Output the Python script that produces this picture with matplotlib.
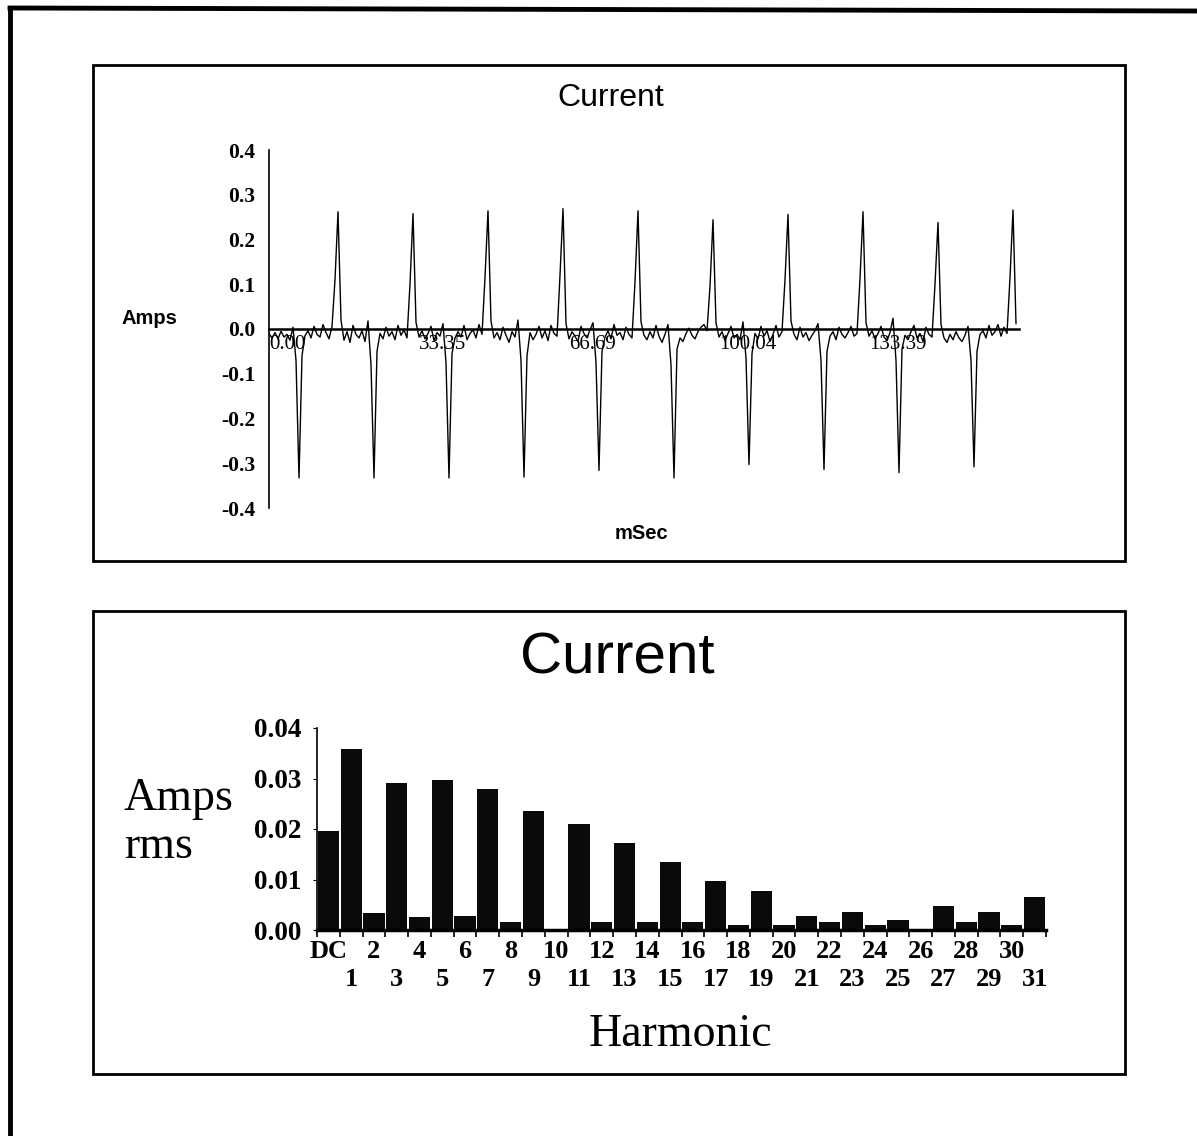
import numpy as np
import matplotlib.pyplot as plt
from matplotlib.patches import Rectangle
from matplotlib.lines import Line2D

plt.rcParams['axes.unicode_minus'] = False

W, H = 1197, 1136
SANS = 'Liberation Sans'
SERIF = 'Liberation Serif'

# ---- waveform data (Amps), one sample every 0.667 ms ----
dt_ms = 0.667
amps = [
    -0.010, -0.020, -0.008, -0.022, -0.005, -0.018, -0.012, -0.025, 0.004, -0.070,
    -0.333, -0.060, -0.015, -0.004, -0.020, 0.006, -0.012, -0.018, 0.010, -0.008,
    -0.022, 0.005, 0.110, 0.262, 0.020,
    -0.025, -0.006, -0.030, 0.008, -0.012, -0.020, -0.004, -0.028, 0.018, -0.080,
    -0.333, -0.050, -0.010, -0.022, 0.004, -0.016, -0.006, -0.024, 0.008, -0.014,
    -0.002, -0.020, 0.100, 0.258, 0.015,
    -0.018, -0.004, -0.022, -0.010, 0.006, -0.026, -0.008, -0.016, 0.012, -0.075,
    -0.333, -0.055, -0.020, -0.006, -0.018, 0.008, -0.024, -0.010, -0.002, -0.020,
    0.010, -0.012, 0.115, 0.264, 0.018,
    -0.020, -0.008, -0.024, 0.004, -0.014, -0.030, -0.006, -0.018, 0.020, -0.070,
    -0.331, -0.060, -0.008, -0.024, -0.012, 0.006, -0.020, -0.004, -0.026, 0.008,
    -0.010, -0.016, 0.120, 0.269, 0.012,
    -0.022, -0.006, -0.016, -0.028, 0.006, -0.010, -0.020, -0.002, 0.014, -0.075,
    -0.316, -0.050, -0.018, -0.004, -0.022, 0.010, -0.014, -0.008, -0.024, 0.004,
    -0.012, -0.020, 0.105, 0.264, 0.016,
    -0.014, -0.024, -0.006, -0.020, 0.008, -0.016, -0.030, -0.012, 0.010, -0.080,
    -0.333, -0.045, -0.020, -0.028, -0.010, 0.002, -0.014, -0.022, -0.006, 0.004,
    0.010, -0.004, 0.095, 0.244, 0.014,
    -0.018, -0.006, -0.026, -0.010, 0.006, -0.020, -0.012, -0.024, 0.016, -0.065,
    -0.303, -0.055, -0.010, -0.022, 0.006, -0.016, -0.004, -0.028, -0.012, 0.008,
    -0.018, -0.006, 0.110, 0.256, 0.018,
    -0.012, -0.024, 0.004, -0.018, -0.008, -0.026, -0.014, -0.004, 0.012, -0.070,
    -0.314, -0.050, -0.016, -0.006, -0.024, 0.004, -0.012, -0.020, -0.008, 0.006,
    -0.016, -0.010, 0.112, 0.262, 0.014,
    -0.016, -0.004, -0.022, -0.010, 0.006, -0.018, -0.026, -0.008, 0.024, -0.070,
    -0.321, -0.045, -0.014, -0.024, -0.006, 0.008, -0.020, -0.010, -0.028, 0.004,
    -0.012, -0.018, 0.100, 0.238, 0.010,
    -0.020, -0.030, -0.012, -0.024, -0.006, -0.020, -0.028, -0.014, 0.006, -0.070,
    -0.308, -0.050, -0.012, -0.004, -0.020, 0.008, -0.014, -0.006, 0.010, -0.016,
    0.004, -0.010, 0.115, 0.266, 0.012,
]
time_ticks = [0.00, 33.35, 66.69, 100.04, 133.39]
amp_ticks = [0.4, 0.3, 0.2, 0.1, 0.0, -0.1, -0.2, -0.3, -0.4]

# ---- harmonic spectrum (Amps rms) ----
harmonics = ['DC'] + [str(h) for h in range(1, 32)]
rms = [0.0196, 0.0359, 0.0033, 0.0292, 0.0026, 0.0298, 0.0028, 0.0279,
       0.0015, 0.0236, 0.0001, 0.0210, 0.0015, 0.0173, 0.0015, 0.0134,
       0.0015, 0.0097, 0.0009, 0.0077, 0.0009, 0.0028, 0.0015, 0.0035,
       0.0009, 0.0020, 0.0001, 0.0048, 0.0015, 0.0035, 0.0009, 0.0066]
rms_ticks = [0.00, 0.01, 0.02, 0.03, 0.04]


def fx(x):
    return x / W


def fy(y):
    return 1 - y / H


def box(x0, y0, x1, y1):
    # pixel box (top-left origin) -> [left, bottom, width, height]
    return [fx(x0), fy(y1), (x1 - x0) / W, (y1 - y0) / H]


fig = plt.figure(figsize=(W / 100, H / 100), dpi=100)
fig.patch.set_facecolor('white')

# outer frame (left + top only) and the two panel boxes
fig.add_artist(Line2D([fx(10), fx(10)], [fy(8), fy(1136)], color='black', lw=3.5))
fig.add_artist(Line2D([fx(10), fx(1197)], [fy(8), fy(11)], color='black', lw=3.5))
for b in [(93, 65, 1125, 561), (93, 611, 1125, 1074)]:
    fig.add_artist(Rectangle((fx(b[0]), fy(b[3])), (b[2] - b[0]) / W, (b[3] - b[1]) / H,
                             transform=fig.transFigure, fill=False, ec='black', lw=2))

# ---------------- top: waveform ----------------
t = np.arange(len(amps)) * dt_ms
ax1 = fig.add_axes(box(269, 150, 1019, 508))
ax1.plot(t, amps, color='black', lw=1.0)
ax1.set_xlim(0, len(amps) * dt_ms)
ax1.set_ylim(-0.4, 0.4)
for s in ['top', 'right']:
    ax1.spines[s].set_visible(False)
ax1.spines['bottom'].set_position(('data', 0))
ax1.spines['bottom'].set_linewidth(1.8)
ax1.spines['left'].set_linewidth(1.2)
ax1.set_yticks(amp_ticks)
ax1.set_yticklabels(['%.1f' % v for v in amp_ticks], fontfamily=SERIF,
                    fontweight='bold', fontsize=15.5)
ax1.set_xticks(time_ticks)
ax1.set_xticklabels(['%.2f' % v for v in time_ticks], fontfamily=SERIF,
                    fontsize=15, ha='left')
ax1.tick_params(axis='y', length=0, pad=10)
ax1.tick_params(axis='x', length=0, pad=4)
ax1.patch.set_alpha(0)

fig.text(fx(611), fy(98), 'Current', fontfamily=SANS, fontsize=23,
         ha='center', va='center')
fig.text(fx(122), fy(318), 'Amps', fontfamily=SANS, fontweight='bold',
         fontsize=14.5, ha='left', va='center')
fig.text(fx(641), fy(533), 'mSec', fontfamily=SANS, fontweight='bold',
         fontsize=14.5, ha='center', va='center')

# ---------------- bottom: harmonics ----------------
ax2 = fig.add_axes(box(317, 728, 1046, 930))
pos = np.arange(len(harmonics))
ax2.bar(pos, rms, width=0.93, color='#0a0a0a', edgecolor='none')
ax2.set_xlim(-0.5, len(harmonics) - 0.5)
ax2.set_ylim(0, 0.04)
for s in ['top', 'right']:
    ax2.spines[s].set_visible(False)
ax2.spines['bottom'].set_linewidth(2.5)
ax2.spines['left'].set_linewidth(1.2)
ax2.set_yticks(rms_ticks)
ax2.set_yticklabels(['%.2f' % v for v in rms_ticks], fontfamily=SERIF,
                    fontweight='bold', fontsize=19.5)
ax2.tick_params(axis='y', length=3, pad=8)

# even categories on the first label row, odd ones on the second
even = pos[0::2]
odd = pos[1::2]
ax2.set_xticks(even)
ax2.set_xticklabels([harmonics[i] for i in even], fontfamily=SERIF,
                    fontweight='bold', fontsize=19)
ax2.tick_params(axis='x', which='major', length=0, pad=7.5)
ax2.set_xticks(np.arange(len(harmonics) + 1) - 0.5, minor=True)
ax2.tick_params(axis='x', which='minor', length=5, width=1.2)

sec = ax2.secondary_xaxis('bottom')
sec.spines['bottom'].set_visible(False)
sec.set_xticks(odd)
sec.set_xticklabels([harmonics[i] for i in odd], fontfamily=SERIF,
                    fontweight='bold', fontsize=19)
sec.tick_params(axis='x', length=0, pad=27.5)

fig.text(fx(617), fy(658), 'Current', fontfamily=SANS, fontsize=42,
         ha='center', va='center')
fig.text(fx(124), fy(810), 'Amps', fontfamily=SERIF, fontsize=33,
         ha='left', va='baseline')
fig.text(fx(124), fy(858), 'rms', fontfamily=SERIF, fontsize=33,
         ha='left', va='baseline')
fig.text(fx(680), fy(1046), 'Harmonic', fontfamily=SERIF, fontsize=33,
         ha='center', va='baseline')

fig.savefig('out.png', dpi=100)
